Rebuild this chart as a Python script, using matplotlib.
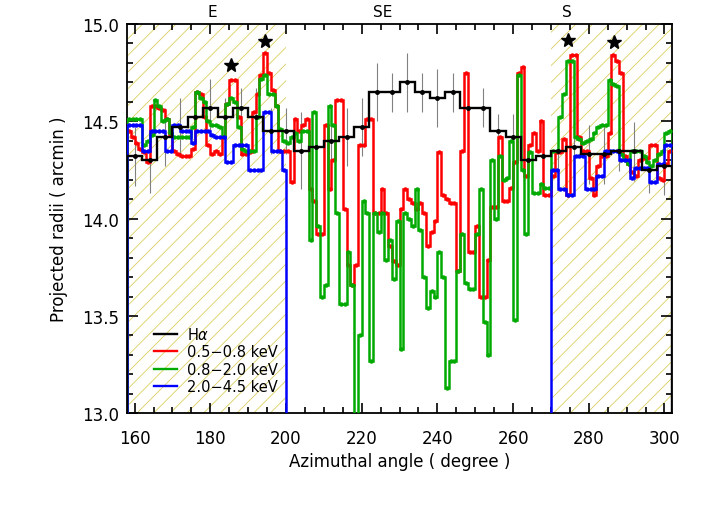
import numpy as np
import matplotlib
matplotlib.use("Agg")
import matplotlib.pyplot as plt

# X-ray profiles, 1-degree bins starting at 158 deg
xray_start = 158
red_05_08 = [
    14.45, 14.42, 14.39, 14.36, 14.34, 14.29, 14.58, 14.58, 14.57, 14.56,
    14.51, 14.43, 14.35, 14.33, 14.32, 14.32, 14.32, 14.36, 14.65, 14.64,
    14.52, 14.38, 14.33, 14.35, 14.33, 14.42, 14.59, 14.71, 14.71, 14.52,
    14.33, 14.33, 14.34, 14.55, 14.64, 14.74, 14.85, 14.75, 14.66, 14.58,
    14.35, 14.35, 14.35, 14.19, 14.51, 14.45, 14.48, 14.51, 14.15, 14.09,
    13.92, 13.92, 14.48, 14.15, 14.30, 14.61, 14.61, 14.05, 13.76, 13.66,
    13.76, 14.38, 14.38, 14.51, 14.51, 14.03, 14.03, 14.15, 14.03, 13.86,
    13.78, 13.76, 14.05, 14.15, 14.10, 14.08, 14.05, 14.08, 14.03, 13.86,
    13.93, 13.99, 14.34, 14.12, 14.10, 14.08, 14.08, 13.73, 14.35, 14.75,
    13.83, 13.83, 13.96, 13.60, 13.60, 13.79, 14.06, 14.06, 14.42, 14.09,
    14.09, 14.16, 14.29, 14.75, 14.78, 14.22, 14.38, 14.44, 14.35, 14.50,
    14.12, 14.12, 14.22, 14.34, 14.34, 14.41, 14.12, 14.84, 14.84, 14.42,
    14.35, 14.35, 14.21, 14.12, 14.27, 14.32, 14.32, 14.44, 14.84, 14.81,
    14.75, 14.32, 14.28, 14.24, 14.22, 14.30, 14.31, 14.31, 14.38, 14.38,
    14.21, 14.20, 14.28, 14.35,
]
green_08_20 = [
    14.51, 14.51, 14.51, 14.51, 14.38, 14.40, 14.43, 14.61, 14.58, 14.50,
    14.51, 14.44, 14.42, 14.42, 14.42, 14.42, 14.42, 14.47, 14.65, 14.62,
    14.60, 14.50, 14.48, 14.48, 14.47, 14.42, 14.59, 14.62, 14.60, 14.47,
    14.36, 14.35, 14.35, 14.35, 14.52, 14.72, 14.74, 14.64, 14.64, 14.58,
    14.46, 14.40, 14.39, 14.42, 14.44, 14.40, 14.45, 14.45, 13.89, 14.55,
    13.96, 13.60, 13.66, 14.58, 14.48, 14.03, 13.56, 13.56, 13.83, 13.66,
    12.90, 13.40, 14.09, 14.03, 13.27, 14.03, 13.93, 14.03, 13.79, 13.89,
    13.69, 13.99, 13.33, 14.03, 14.00, 13.96, 14.15, 13.94, 13.70, 13.54,
    13.63, 13.60, 13.83, 13.70, 13.13, 13.27, 13.27, 13.73, 13.92, 13.67,
    13.64, 13.64, 13.92, 14.15, 13.47, 13.30, 14.30, 14.00, 14.32, 14.20,
    14.21, 14.40, 13.48, 14.74, 14.25, 13.92, 14.34, 14.13, 14.13, 14.18,
    14.16, 14.16, 14.35, 14.35, 14.52, 14.64, 14.81, 14.81, 14.42, 14.41,
    14.39, 14.40, 14.41, 14.44, 14.47, 14.48, 14.48, 14.71, 14.69, 14.68,
    14.33, 14.30, 14.28, 14.35, 14.35, 14.35, 14.32, 14.29, 14.27, 14.30,
    14.33, 14.35, 14.44, 14.45,
]
# 0 = no measurement in the 2.0-4.5 keV band (200-270 deg)
blue_20_45 = (
    [14.48, 14.48, 14.48, 14.48, 14.35, 14.35, 14.45, 14.45, 14.45, 14.45,
     14.35, 14.35, 14.48, 14.48, 14.45, 14.45, 14.45, 14.39, 14.45, 14.45,
     14.45, 14.45, 14.43, 14.42, 14.42, 14.42, 14.29, 14.29, 14.38, 14.38,
     14.38, 14.38, 14.25, 14.25, 14.25, 14.25, 14.55, 14.55, 14.35, 14.35,
     14.35, 14.25]
    + [0.0] * 70
    + [14.25, 14.25, 14.15, 14.15, 14.12, 14.12, 14.32, 14.32, 14.32, 14.15,
       14.15, 14.15, 14.22, 14.22, 14.35, 14.35, 14.35, 14.35, 14.30, 14.30,
       14.30, 14.21, 14.26, 14.26, 14.26, 14.26, 14.19, 14.19, 14.28, 14.28,
       14.38, 14.38]
)

# H-alpha profile, 4-degree bins centred on 160..300
ha_center = np.arange(160, 301, 4)
ha_radius = [
    14.32, 14.30, 14.42, 14.47, 14.52, 14.57, 14.52, 14.57, 14.52, 14.45,
    14.45, 14.35, 14.37, 14.40, 14.42, 14.47, 14.65, 14.65, 14.70, 14.65,
    14.62, 14.65, 14.57, 14.57, 14.45, 14.42, 14.30, 14.32, 14.35, 14.37,
    14.33, 14.33, 14.345, 14.345, 14.25, 14.27,
]
ha_error = [
    0.15, 0.17, 0.15, 0.15, 0.12, 0.15, 0.10, 0.10, 0.15, 0.12,
    0.12, 0.20, 0.12, 0.12, 0.15, 0.15, 0.15, 0.10, 0.15, 0.10,
    0.15, 0.10, 0.12, 0.10, 0.09, 0.12, 0.08, 0.07, 0.12, 0.12,
    0.15, 0.15, 0.10, 0.15, 0.12, 0.15,
]

# Stars marking bright point sources
star_x = [185.5, 194.5, 274.5, 286.7]
star_y = [14.79, 14.915, 14.92, 14.905]

# direction labels on top
dir_labels = ["E", "SE", "S"]
dir_x = [180.5, 225.6, 274.2]

hatch_ranges = [(158, 200), (270, 302)]

plt.rcParams["hatch.linewidth"] = 0.6

fig = plt.figure(figsize=(7.08, 5.06), dpi=100)
ax = fig.add_axes([0.1794, 0.1812, 0.7698, 0.7694])

for x0, x1 in hatch_ranges:
    ax.axvspan(x0, x1, facecolor="none", edgecolor="#dcd060", hatch="//",
               linewidth=0, zorder=0)

n = len(red_05_08)
edges = xray_start + np.arange(n + 1)
centers = edges[:-1] + 0.5
series = [
    (red_05_08, "#ff0000", "0.5\u22120.8 keV"),
    (green_08_20, "#00aa00", "0.8\u22122.0 keV"),
    (blue_20_45, "#0000ff", "2.0\u22124.5 keV"),
]

ha_edges = np.append(ha_center - 2, ha_center[-1] + 2)
ax.errorbar(ha_center, ha_radius, yerr=ha_error, fmt="none",
            ecolor="#808080", elinewidth=0.8, capsize=0, zorder=2)

handles = []
ax.stairs(ha_radius, ha_edges, color="black", linewidth=1.7, zorder=6)
ax.plot(ha_center, ha_radius, "o", color="black", ms=2.5, zorder=6)
handles.append(plt.Line2D([], [], color="black", lw=1.7, label=r"H$\alpha$"))

for vals, col, lab in series:
    ax.stairs(vals, edges, color=col, linewidth=1.8, zorder=3)
    ax.plot(centers, vals, "o", color=col, ms=2.2, zorder=3)
    handles.append(plt.Line2D([], [], color=col, lw=1.7, label=lab))

ax.plot(star_x, star_y, "*", color="black", ms=10, zorder=7)

for lab, x in zip(dir_labels, dir_x):
    ax.text(x, 1.012, lab, transform=ax.get_xaxis_transform(),
            ha="center", va="bottom", fontsize=11)

ax.set_xlim(158, 302)
ax.set_ylim(13.0, 15.0)
ax.set_xticks(np.arange(160, 301, 20))
ax.set_xticks(np.arange(160, 302, 5), minor=True)
ax.set_yticks(np.arange(13.0, 15.01, 0.5))
ax.set_yticks(np.arange(13.0, 15.01, 0.1), minor=True)
ax.yaxis.set_major_formatter(matplotlib.ticker.FormatStrFormatter("%.1f"))
ax.tick_params(which="both", direction="in", top=True, right=True,
               labelsize=12, width=1.2)
ax.tick_params(axis="x", which="major", length=7, pad=11)
ax.tick_params(axis="x", which="minor", length=4)
ax.tick_params(axis="y", which="major", length=8, pad=6)
ax.tick_params(axis="y", which="minor", length=4)
for s in ax.spines.values():
    s.set_linewidth(1.3)

ax.set_xlabel("Azimuthal angle ( degree )", fontsize=12, labelpad=4)
ax.set_ylabel("Projected radii ( arcmin )", fontsize=12, labelpad=10)

ax.legend(handles=handles, loc="lower left", bbox_to_anchor=(0.038, 0.035),
          frameon=False, fontsize=10.5, handlelength=1.6, handletextpad=0.7,
          labelspacing=0.15, borderaxespad=0)

fig.savefig("out.png", dpi=100)
